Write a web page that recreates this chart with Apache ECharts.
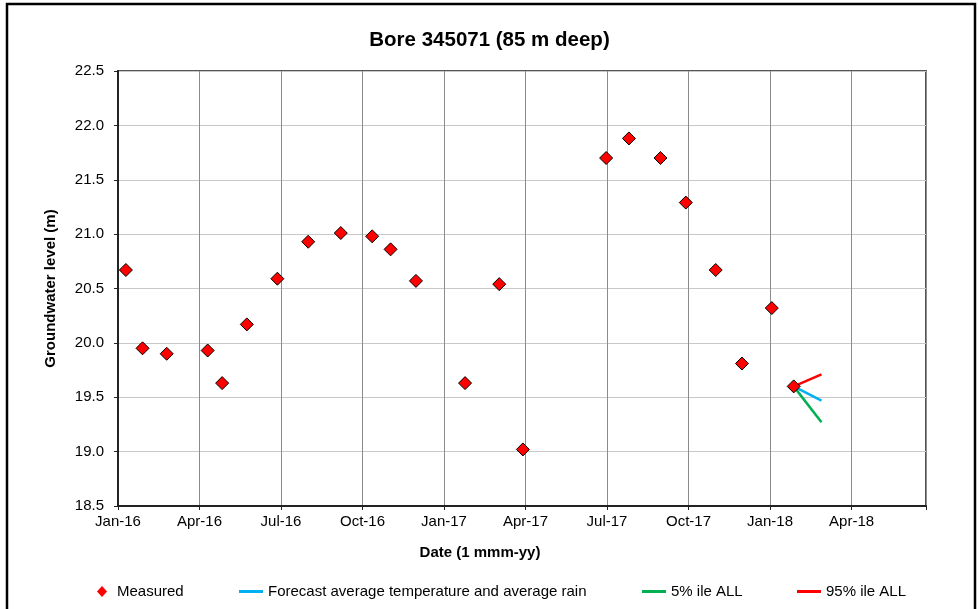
<!DOCTYPE html>
<html>
<head>
<meta charset="utf-8">
<script src="https://cdn.jsdelivr.net/npm/echarts@6/dist/echarts.min.js"></script>
<style>
  html, body { margin: 0; padding: 0; background: #fff; }
  #main { width: 979px; height: 609px; }
</style>
</head>
<body>
<div id="main"></div>
<script>
// measured bore levels
var measuredDates = [
  '2016-01-10', '2016-01-29', '2016-02-24', '2016-04-10', '2016-04-26', '2016-05-24',
  '2016-06-27', '2016-08-01', '2016-09-07', '2016-10-12', '2016-11-02', '2016-11-30',
  '2017-01-25', '2017-03-02', '2017-03-29', '2017-06-30', '2017-07-26', '2017-08-31',
  '2017-09-28', '2017-11-01', '2017-11-30', '2018-01-03', '2018-01-28'
]
var measuredLevels = [
  20.67, 19.95, 19.90, 19.93, 19.63, 20.17,
  20.59, 20.93, 21.01, 20.98, 20.86, 20.57,
  19.63, 20.54, 19.02, 21.70, 21.88, 21.70,
  21.29, 20.67, 19.81, 20.32, 19.60
]

// forecasts
var forecastDates = ['2018-01-28', '2018-02-26']
var forecastAvg = [19.60, 19.47]
var forecast5 = [19.60, 19.27]
var forecast95 = [19.60, 19.71]

var tickLabels = ['Jan-16', 'Apr-16', 'Jul-16', 'Oct-16', 'Jan-17', 'Apr-17',
  'Jul-17', 'Oct-17', 'Jan-18', 'Apr-18']

var FONT = "'Liberation Sans', Arial, sans-serif"

// months since Jan-2016 (axis unit)
function toMonths(s) {
  var p = s.split('-').map(Number)
  var dim = new Date(p[0], p[1], 0).getDate()
  return (p[0] - 2016) * 12 + (p[1] - 1) + (p[2] - 1) / dim
}
function pairs(dates, vals) {
  return dates.map(function (d, i) { return [toMonths(d), vals[i]] })
}

var chartDom = document.getElementById('main')
var myChart = echarts.init(chartDom)

function lineSeries(name, color, vals) {
  return {
    name: name,
    type: 'line',
    data: pairs(forecastDates, vals),
    symbol: 'none',
    lineStyle: { color: color, width: 2.5 },
    itemStyle: { color: color },
    z: 2
  }
}

function lineLegend(left, name) {
  return {
    left: left,
    top: 579,
    itemWidth: 24,
    itemHeight: 3,
    data: [{ name: name, icon: 'rect' }],
    textStyle: { fontFamily: FONT, fontSize: 15, color: '#000' }
  }
}

var option = {
  backgroundColor: '#fff',
  animation: false,
  title: {
    text: 'Bore 345071 (85 m deep)',
    left: 'center',
    top: 25,
    textStyle: { fontFamily: FONT, fontSize: 20.5, fontWeight: 'bold', color: '#000' }
  },
  graphic: [
    {
      type: 'rect',
      shape: { x: 7, y: 4, width: 968, height: 640 },
      style: { fill: 'none', stroke: '#000', lineWidth: 2.5 },
      silent: true
    },
    {
      type: 'text',
      x: 480,
      y: 553,
      style: {
        text: 'Date (1 mmm-yy)',
        font: 'bold 15px ' + FONT,
        fill: '#000',
        textAlign: 'center',
        textVerticalAlign: 'middle'
      }
    }
  ],
  legend: [
    {
      left: 92,
      top: 579,
      itemWidth: 10,
      itemHeight: 11,
      data: [{ name: 'Measured', icon: 'diamond', itemStyle: { borderWidth: 0 } }],
      textStyle: { fontFamily: FONT, fontSize: 15, color: '#000', padding: [0, 0, 0, 5] }
    },
    lineLegend(234, 'Forecast average temperature and average rain'),
    lineLegend(637, '5% ile ALL'),
    lineLegend(792, '95% ile ALL')
  ],
  grid: {
    left: 118,
    top: 71,
    right: 53,
    bottom: 103,
    show: true,
    borderColor: '#555',
    borderWidth: 2
  },
  xAxis: {
    type: 'value',
    min: 0,
    max: 29.74,
    interval: 3,
    axisLine: { show: true, onZero: false, lineStyle: { color: '#222', width: 2 } },
    axisTick: { show: true, inside: false, length: 4, lineStyle: { color: '#222' } },
    splitLine: { show: true, lineStyle: { color: '#8c8c8c', width: 1 } },
    axisLabel: {
      fontFamily: FONT, fontSize: 15, color: '#000', margin: 8,
      formatter: function (v) { return tickLabels[Math.round(v / 3)] || '' }
    }
  },
  yAxis: {
    type: 'value',
    min: 18.5,
    max: 22.5,
    interval: 0.5,
    name: 'Groundwater level (m)',
    nameLocation: 'middle',
    nameGap: 60,
    nameTextStyle: { fontFamily: FONT, fontSize: 15, fontWeight: 'bold', color: '#000' },
    axisLine: { show: true, lineStyle: { color: '#222', width: 2 } },
    axisTick: { show: true, inside: false, length: 4, lineStyle: { color: '#222' } },
    splitLine: { show: true, lineStyle: { color: '#c8c8c8', width: 1 } },
    axisLabel: {
      fontFamily: FONT, fontSize: 15, color: '#000', margin: 14,
      formatter: function (v) { return v.toFixed(1) }
    }
  },
  series: [
    lineSeries('Forecast average temperature and average rain', '#00b0f0', forecastAvg),
    lineSeries('5% ile ALL', '#00b050', forecast5),
    lineSeries('95% ile ALL', '#ff0000', forecast95),
    {
      name: 'Measured',
      type: 'scatter',
      data: pairs(measuredDates, measuredLevels),
      symbol: 'diamond',
      symbolSize: 13,
      itemStyle: { color: '#ff0000', borderColor: '#000', borderWidth: 1, opacity: 1 },
      z: 5
    }
  ]
}

option && myChart.setOption(option)
</script>
</body>
</html>
